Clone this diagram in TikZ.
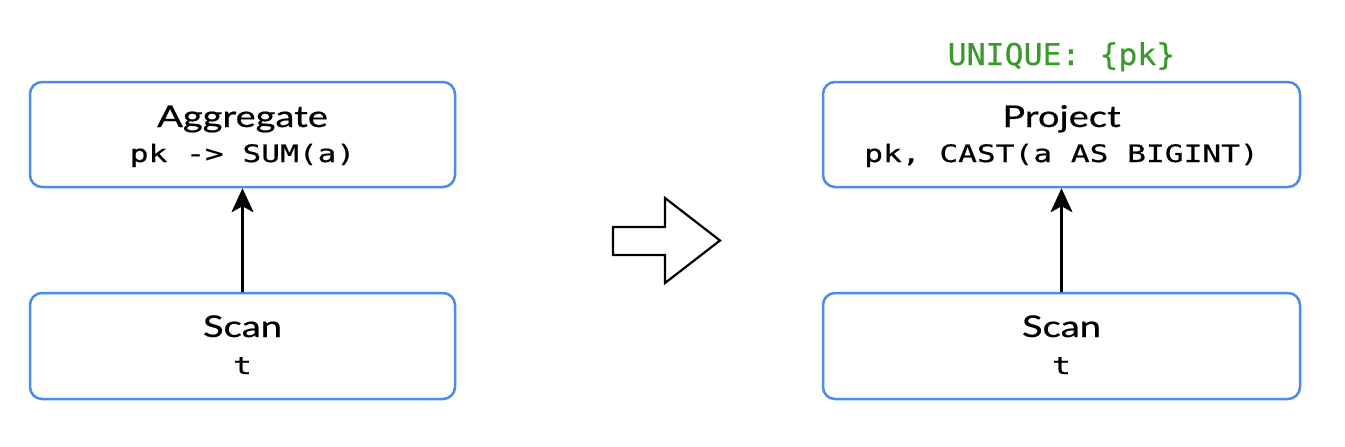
\documentclass[tikz,border=0pt]{standalone}
\usepackage{fontspec}
\usetikzlibrary{arrows.meta}
\newfontfamily\titlefont[FakeStretch=1.27,FakeBold=0.6]{Lato}
\newfontfamily\codefont[FakeStretch=1.3,FakeBold=0.6]{DejaVu Sans Mono}
\newfontfamily\greencodefont[FakeStretch=1.05,FakeBold=0.4]{DejaVu Sans Mono}
\definecolor{boxblue}{HTML}{4A8BEB}
\definecolor{uniqgreen}{HTML}{3A9A2C}
\tikzset{
  opbox/.style={draw=boxblue, line width=2.5pt, rounded corners=12pt, fill=white, inner sep=0pt},
  titletext/.style={anchor=base, inner sep=0pt, font=\titlefont\fontsize{30}{36}\selectfont},
  codetext/.style={anchor=base, inner sep=0pt, font=\codefont\fontsize{24}{28}\selectfont},
  uniqtext/.style={anchor=base, inner sep=0pt, text=uniqgreen, font=\greencodefont\fontsize{30}{34}\selectfont},
  conn/.style={line width=2.5pt, -{Stealth[length=24pt,width=22pt,inset=6pt]}},
  bigarrow/.style={draw=black, line width=2.2pt, fill=white, line join=miter}
}
\begin{document}
\begin{tikzpicture}[x=1pt,y=-1pt]
\useasboundingbox[fill=white] (0,0) rectangle (1345,447);
% left side
\node[opbox, minimum width=425pt, minimum height=105pt] (aggL) at (242.5,134.5) {};
\node[titletext] (aggTitle) at (242.5,127) {Aggregate};
\node[codetext] (aggCode) at (242.5,162) {pk -> SUM(a)};
\node[opbox, minimum width=425pt, minimum height=106pt] (scanL) at (242.5,346) {};
\node[titletext] (scanLTitle) at (242.5,337) {Scan};
\node[codetext] (scanLCode) at (242.5,374) {t};
\draw[conn] (scanL.north) -- (aggL.south);
% transformation arrow
\draw[bigarrow] (613,227) -- (665,227) -- (665,198) -- (720,240.5) -- (665,283) -- (665,255) -- (613,255) -- cycle;
% right side
\node[uniqtext] (uniq) at (1061.5,65) {UNIQUE: \{pk\}};
\node[opbox, minimum width=477pt, minimum height=105pt] (projR) at (1061.5,134.5) {};
\node[titletext] (projTitle) at (1061.5,127) {Project};
\node[codetext] (projCode) at (1061.5,162) {pk, CAST(a AS BIGINT)};
\node[opbox, minimum width=477pt, minimum height=106pt] (scanR) at (1061.5,346) {};
\node[titletext] (scanRTitle) at (1061.5,337) {Scan};
\node[codetext] (scanRCode) at (1061.5,374) {t};
\draw[conn] (scanR.north) -- (projR.south);
\end{tikzpicture}
\end{document}
